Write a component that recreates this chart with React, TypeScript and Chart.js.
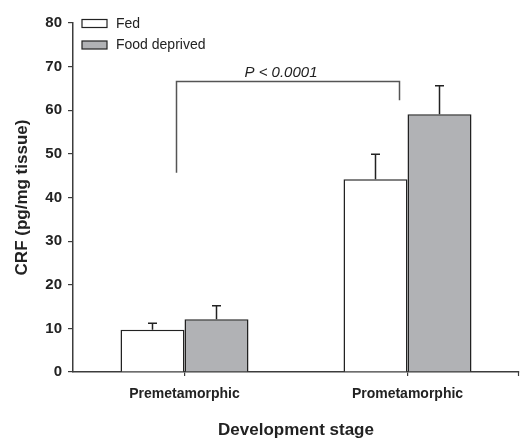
import React, { useEffect, useRef } from "react";
import { Chart, registerables } from "chart.js";

Chart.register(...registerables);

const categories = ["Premetamorphic", "Prometamorphic"];
const fedValues = [9.7, 44.2];
const fedErrors = [1.5, 5.7];
const deprivedValues = [12.1, 59.1];
const deprivedErrors = [3.1, 6.5];
const seriesNames = ["Fed", "Food deprived"];
const yTicks = [0, 10, 20, 30, 40, 50, 60, 70, 80];
const bracketTop = 66.6;
const bracketLeftFoot = 45.7;
const bracketRightFoot = 62.3;
const pLabel = "P < 0.0001";

const AXIS = "#3c3c3c";
const EDGE = "#222222";
const GREY = "#b1b2b5";
const FONT = "'Liberation Sans', Arial, Helvetica, sans-serif";

const overlay = {
  id: "overlay",
  afterDatasetsDraw(chart: any) {
    const ctx = chart.ctx;
    const x = chart.scales.x;
    const y = chart.scales.y;
    const area = chart.chartArea;
    ctx.save();
    // error bars
    const errs = [fedErrors, deprivedErrors];
    const vals = [fedValues, deprivedValues];
    for (let d = 0; d < 2; d++) {
      const meta = chart.getDatasetMeta(d);
      meta.data.forEach((bar: any, i: number) => {
        const top = y.getPixelForValue(vals[d][i]);
        const hi = y.getPixelForValue(vals[d][i] + errs[d][i]);
        ctx.strokeStyle = EDGE;
        ctx.lineWidth = 1.5;
        ctx.beginPath();
        ctx.moveTo(bar.x, top);
        ctx.lineTo(bar.x, hi);
        ctx.moveTo(bar.x - 4.5, hi);
        ctx.lineTo(bar.x + 4.5, hi);
        ctx.stroke();
      });
    }
    // bracket
    const xl = x.getPixelForValue(0) - 8;
    const xr = x.getPixelForValue(1) - 8;
    const yt = y.getPixelForValue(bracketTop);
    ctx.strokeStyle = "#555";
    ctx.lineWidth = 1.5;
    ctx.beginPath();
    ctx.moveTo(xl, y.getPixelForValue(bracketLeftFoot));
    ctx.lineTo(xl, yt);
    ctx.lineTo(xr, yt);
    ctx.lineTo(xr, y.getPixelForValue(bracketRightFoot));
    ctx.stroke();
    ctx.fillStyle = "#222";
    ctx.font = `italic 15px ${FONT}`;
    ctx.textAlign = "center";
    ctx.textBaseline = "alphabetic";
    ctx.fillText(pLabel, (xl + xr) / 2 - 7, yt - 4.5);
    // legend
    const fills = ["#ffffff", GREY];
    ctx.font = `14px ${FONT}`;
    ctx.textAlign = "left";
    ctx.textBaseline = "middle";
    seriesNames.forEach((name, i) => {
      const cy = area.top + 0.5 + i * 21.5;
      ctx.fillStyle = fills[i];
      ctx.fillRect(area.left + 9, cy - 4, 25, 8);
      ctx.strokeStyle = EDGE;
      ctx.lineWidth = 1.2;
      ctx.strokeRect(area.left + 9, cy - 4, 25, 8);
      ctx.fillStyle = "#222";
      ctx.fillText(name, area.left + 43, cy + 0.5);
    });
    // right-end tick on x axis
    ctx.strokeStyle = AXIS;
    ctx.lineWidth = 1.2;
    ctx.beginPath();
    ctx.moveTo(area.right - 0.5, area.bottom);
    ctx.lineTo(area.right - 0.5, area.bottom + 4);
    ctx.stroke();
    ctx.restore();
  },
};

export default function App() {
  const ref = useRef<HTMLCanvasElement>(null);
  useEffect(() => {
    document.body.style.margin = "0";
    const chart = new Chart(ref.current!, {
      type: "bar",
      data: {
        labels: categories,
        datasets: [
          {
            label: seriesNames[0],
            data: fedValues,
            backgroundColor: "#ffffff",
            borderColor: EDGE,
            borderWidth: 1.5,
            barPercentage: 1,
            categoryPercentage: 0.574,
          },
          {
            label: seriesNames[1],
            data: deprivedValues,
            backgroundColor: GREY,
            borderColor: EDGE,
            borderWidth: 1.5,
            barPercentage: 1,
            categoryPercentage: 0.574,
          },
        ],
      },
      options: {
        responsive: false,
        animation: false,
        layout: { padding: { top: 23, right: 2, left: 0, bottom: 0 } },
        plugins: { legend: { display: false }, tooltip: { enabled: false } },
        scales: {
          x: {
            offset: true,
            grid: { offset: false, drawOnChartArea: false, tickLength: 4, color: AXIS, lineWidth: 1.2 },
            border: { color: AXIS, width: 1.5 },
            ticks: { color: "#222", font: { family: FONT, size: 14, weight: "bold" }, padding: 10 },
            title: {
              display: true,
              text: "Development stage",
              color: "#222",
              font: { family: FONT, size: 17, weight: "bold" },
              padding: { top: 0, bottom: 0 },
            },
            afterFit: (s: any) => {
              s.height = 69;
            },
          },
          y: {
            min: 0,
            max: 80,
            afterBuildTicks: (s: any) => {
              s.ticks = yTicks.map((v) => ({ value: v }));
            },
            grid: { drawOnChartArea: false, tickLength: 5, color: AXIS, lineWidth: 1.2 },
            border: { color: AXIS, width: 1.5 },
            ticks: { color: "#222", font: { family: FONT, size: 15, weight: "bold" }, padding: 6 },
            title: {
              display: true,
              text: "CRF (pg/mg tissue)",
              color: "#222",
              font: { family: FONT, size: 17, weight: "bold" },
              padding: { top: 12, bottom: 0 },
            },
            afterFit: (s: any) => {
              s.width = 73;
            },
          },
        },
      },
      plugins: [overlay],
    });
    return () => chart.destroy();
  }, []);
  return (
    <div style={{ position: "absolute", left: 0, top: 0, width: 521, height: 441, background: "#fff" }}>
      <canvas ref={ref} width={521} height={441} />
    </div>
  );
}
